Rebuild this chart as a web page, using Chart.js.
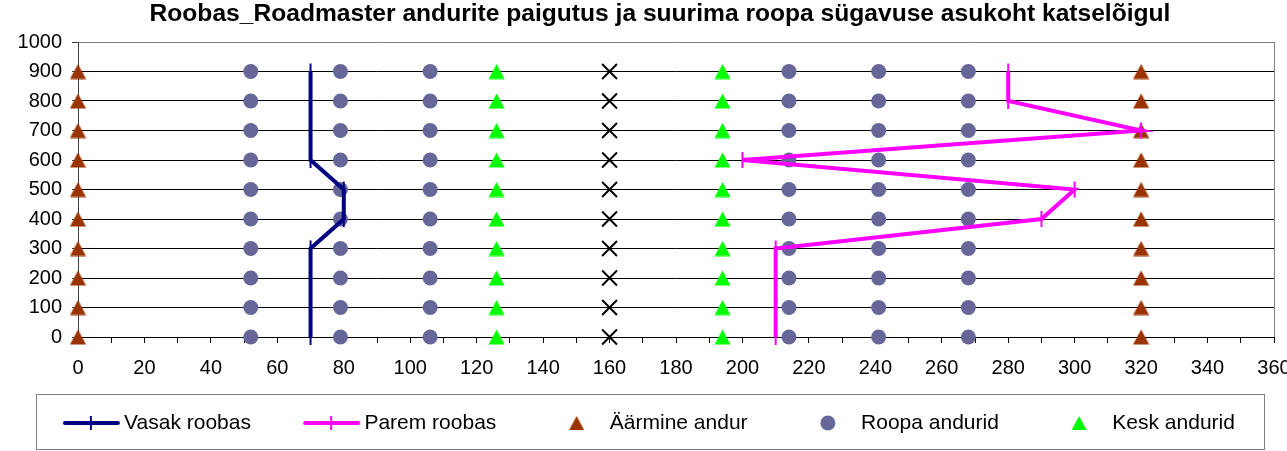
<!DOCTYPE html>
<html><head><meta charset="utf-8">
<script src="https://cdn.jsdelivr.net/npm/chart.js@4.4.1/dist/chart.umd.min.js"></script>
<style>html,body{margin:0;padding:0;background:#fff;overflow:hidden}</style>
</head><body>
<canvas id="c" width="1287" height="451" style="display:block;width:1287px;height:451px"></canvas>
<script>
// ---- data ----
const chartTitle = 'Roobas_Roadmaster andurite paigutus ja suurima roopa sügavuse asukoht katselõigul';
const seriesNames = ['Vasak roobas', 'Parem roobas', 'Äärmine andur', 'Roopa andurid', 'Kesk andurid', 'Kesktelg'];
const sensorLevels = [0, 100, 200, 300, 400, 500, 600, 700, 800, 900];
const vasakX = [70, 70, 80, 80, 70, 70];
const vasakY = [0, 300, 400, 500, 600, 900];
const paremX = [210, 210, 290, 300, 200, 320, 280, 280];
const paremY = [0, 300, 400, 500, 600, 700, 800, 900];
const aarmineX = [0, 320];
const roopaX = [52, 79, 106, 214, 241, 268];
const keskX = [126, 194];
const keskteljeX = [160];
const xTickLabels = ['0','20','40','60','80','100','120','140','160','180','200','220','240','260','280','300','320','340','360'];
const yTickLabels = ['0','100','200','300','400','500','600','700','800','900','1000'];

const FONT = "'Liberation Sans', Arial, sans-serif";
const pairs = (xs, ys) => xs.map((x, i) => ({x, y: ys[i]}));
const grid = (xs) => xs.flatMap(x => sensorLevels.map(y => ({x, y})));

function mk(w, h, draw) { const c = document.createElement('canvas'); c.width = w; c.height = h; draw(c.getContext('2d')); return c; }
// legend symbol images (88 px wide; visible symbol centred at x = 57)
const lineImg = (col) => mk(88, 16, g => { g.strokeStyle = col; g.lineCap = 'round'; g.lineWidth = 4; g.beginPath(); g.moveTo(31, 8); g.lineTo(84, 8); g.stroke(); g.lineWidth = 2; g.lineCap = 'butt'; g.beginPath(); g.moveTo(57, 1); g.lineTo(57, 15); g.stroke(); });
const triImg = (col) => mk(88, 16, g => { g.fillStyle = col; g.beginPath(); g.moveTo(57, 1); g.lineTo(64.5, 15); g.lineTo(49.5, 15); g.closePath(); g.fill(); });
const circImg = (col) => mk(88, 16, g => { g.fillStyle = col; g.beginPath(); g.arc(57, 8, 7.5, 0, Math.PI * 2); g.fill(); });
// marker image for triangles on the plot
const triMarker = (col) => mk(17, 16, g => { g.fillStyle = col; g.beginPath(); g.moveTo(8.5, 0.5); g.lineTo(16.5, 15.5); g.lineTo(0.5, 15.5); g.closePath(); g.fill(); });

const NAVY = '#000080', MAG = '#FF00FF', BROWN = '#993300', SLATE = '#666699', GREEN = '#00FF00';
const legendImgs = [lineImg(NAVY), lineImg(MAG), triImg(BROWN), circImg(SLATE), triImg(GREEN)];

const frame = {
  id: 'frame',
  afterLayout(chart) {
    const t = chart.titleBlock;
    if (t) { t.left = 43; t.right = 1277; }
  },
  beforeDatasetsDraw(chart) {
    const a = chart.chartArea, g = chart.ctx;
    g.save(); g.strokeStyle = '#808080'; g.lineWidth = 1;
    g.beginPath(); g.moveTo(Math.round(a.right) + 0.5, a.top); g.lineTo(Math.round(a.right) + 0.5, a.bottom); g.stroke();
    g.restore();
  },
  afterDraw(chart) {
    const g = chart.ctx, L = chart.legend, a = chart.chartArea;
    g.save(); g.strokeStyle = '#808080'; g.lineWidth = 1;
    g.strokeRect(a.left - 42 + 0.5, L.bottom - 49.5 + 0.5, (a.right - 10) - (a.left - 42), 55);
    g.restore();
  }
};

new Chart(document.getElementById('c'), {
  type: 'scatter',
  data: {
    datasets: [
      { label: seriesNames[0], data: pairs(vasakX, vasakY), showLine: true, borderColor: NAVY, borderWidth: 4, pointStyle: 'line', pointRotation: 90, pointRadius: 8, pointBorderWidth: 2, pointBorderColor: NAVY, clip: false },
      { label: seriesNames[1], data: pairs(paremX, paremY), showLine: true, borderColor: MAG, borderWidth: 4, pointStyle: 'line', pointRotation: 90, pointRadius: 8, pointBorderWidth: 2, pointBorderColor: MAG, clip: false },
      { label: seriesNames[2], data: grid(aarmineX), pointStyle: triMarker(BROWN), pointRadius: 8, pointBorderWidth: 0, backgroundColor: BROWN, borderColor: BROWN, clip: false },
      { label: seriesNames[3], data: grid(roopaX), pointStyle: 'circle', pointRadius: 7.5, pointBorderWidth: 0, backgroundColor: SLATE, borderColor: SLATE, clip: false },
      { label: seriesNames[4], data: grid(keskX), pointStyle: triMarker(GREEN), pointRadius: 8, pointBorderWidth: 0, backgroundColor: GREEN, borderColor: GREEN, clip: false },
      { label: seriesNames[5], data: grid(keskteljeX), pointStyle: 'crossRot', pointRadius: 10.5, pointBorderWidth: 2, backgroundColor: '#000', borderColor: '#000', clip: false }
    ]
  },
  options: {
    responsive: false, animation: false, devicePixelRatio: 1, events: [],
    layout: { padding: { left: 0, right: 10, top: 0, bottom: 7.5 } },
    plugins: {
      tooltip: { enabled: false },
      title: { display: true, text: chartTitle, color: '#000', font: { family: FONT, size: 24.6, weight: 'bold', lineHeight: 1 }, padding: { top: 1.5, bottom: 15.9 } },
      legend: {
        display: true, position: 'bottom',
        labels: {
          usePointStyle: true, pointStyleWidth: 71.5, padding: 31.5, color: '#000',
          font: { family: FONT, size: 21 },
          generateLabels: (chart) => chart.data.datasets.slice(0, 5).map((ds, i) => ({
            text: ds.label, pointStyle: legendImgs[i], fillStyle: 'rgba(0,0,0,0)', strokeStyle: 'rgba(0,0,0,0)', lineWidth: 0, hidden: false, datasetIndex: i, fontColor: '#000'
          }))
        }
      }
    },
    scales: {
      x: {
        type: 'linear', min: 0, max: 360,
        afterFit(s) { s.height = 44; s.paddingLeft = 0; s.paddingRight = 13; },
        ticks: { stepSize: 10, autoSkip: false, maxRotation: 0, color: '#000', padding: 13, font: { family: FONT, size: 20 },
          callback: (v) => (v % 20 === 0 ? xTickLabels[v / 20] : '') },
        grid: { drawOnChartArea: false, drawTicks: true, tickLength: 6, tickColor: '#000', tickWidth: 1 },
        border: { color: '#000', width: 1 }
      },
      y: {
        type: 'linear', min: 0, max: 1000,
        afterFit(s) { s.width = 78; s.paddingTop = 0; s.paddingBottom = 0; },
        ticks: { stepSize: 100, color: '#000', padding: 10, font: { family: FONT, size: 20 },
          callback: (v) => yTickLabels[v / 100] },
        grid: { color: (c) => (c.tick && c.tick.value === 1000 ? '#808080' : '#000'), lineWidth: 1, drawTicks: true, tickLength: 6, tickColor: '#404040' },
        border: { color: '#404040', width: 1 }
      }
    }
  },
  plugins: [frame]
});
</script>
</body></html>
